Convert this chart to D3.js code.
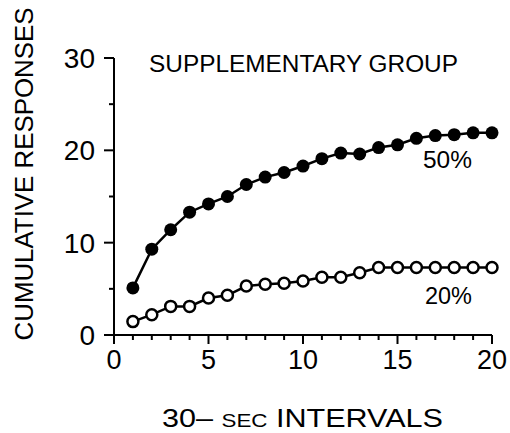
<!DOCTYPE html>
<html>
<head>
<meta charset="utf-8">
<script src="https://cdn.jsdelivr.net/npm/d3@7"></script>
<style>
  body { margin: 0; background: #fff; }
  text { font-family: "Liberation Sans", Arial, sans-serif; fill: #000; }
</style>
</head>
<body>
<div id="chart"></div>
<script>
// data
var intervals = d3.range(1, 21);
var group50 = [5.1, 9.3, 11.4, 13.3, 14.2, 15.0, 16.3, 17.1, 17.6, 18.3,
               19.1, 19.7, 19.6, 20.3, 20.6, 21.3, 21.6, 21.7, 21.9, 21.9];
var group20 = [1.45, 2.2, 3.1, 3.1, 4.0, 4.3, 5.3, 5.5, 5.6, 5.85,
               6.25, 6.25, 6.75, 7.3, 7.3, 7.3, 7.3, 7.3, 7.3, 7.3];
var xTicks = [0, 5, 10, 15, 20];
var yTicks = [0, 10, 20, 30];

var w = 510, h = 433;
var x = d3.scaleLinear().domain([0, 20]).range([114, 492]);
var y = d3.scaleLinear().domain([0, 30]).range([335, 58]);

var svg = d3.select("#chart").append("svg")
    .attr("width", w)
    .attr("height", h);

// axes lines
svg.append("line")
    .attr("x1", x(0)).attr("x2", x(0))
    .attr("y1", y(30)).attr("y2", y(0) + 6)
    .attr("stroke", "#000").attr("stroke-width", 2);
svg.append("line")
    .attr("x1", x(0) - 10).attr("x2", x(20))
    .attr("y1", y(0)).attr("y2", y(0))
    .attr("stroke", "#000").attr("stroke-width", 2);

// y ticks (major + minor)
svg.selectAll(".ytick")
    .data(d3.range(0, 31, 5))
    .enter().append("line")
    .attr("x1", function(d) { return d % 10 === 0 ? x(0) - 10 : x(0) - 5; })
    .attr("x2", x(0))
    .attr("y1", function(d) { return y(d); })
    .attr("y2", function(d) { return y(d); })
    .attr("stroke", "#000").attr("stroke-width", 2);

// x ticks (major + minor)
svg.selectAll(".xtick")
    .data(d3.range(0, 21, 1))
    .enter().append("line")
    .attr("x1", function(d) { return x(d); })
    .attr("x2", function(d) { return x(d); })
    .attr("y1", y(0))
    .attr("y2", function(d) { return d % 5 === 0 ? y(0) + 9 : y(0) + 5; })
    .attr("stroke", "#000").attr("stroke-width", 2);

// tick labels
svg.selectAll(".ylab")
    .data(yTicks)
    .enter().append("text")
    .attr("x", x(0) - 19)
    .attr("y", function(d) { return y(d) + 10; })
    .attr("text-anchor", "end")
    .style("font-size", "28px")
    .text(function(d) { return d; });

svg.selectAll(".xlab")
    .data(xTicks)
    .enter().append("text")
    .attr("x", function(d) { return x(d); })
    .attr("y", 369)
    .attr("text-anchor", "middle")
    .style("font-size", "27px")
    .text(function(d) { return d; });

// axis titles
svg.append("text")
    .attr("transform", "translate(33,174) rotate(-90)")
    .attr("text-anchor", "middle")
    .attr("textLength", 333)
    .attr("lengthAdjust", "spacingAndGlyphs")
    .style("font-size", "25px")
    .text("CUMULATIVE RESPONSES");

var xt = svg.append("text")
    .attr("x", 162)
    .attr("y", 427)
    .attr("textLength", 281)
    .attr("lengthAdjust", "spacingAndGlyphs")
    .style("font-size", "26px");
xt.append("tspan").text("30\u2013 ");
xt.append("tspan").style("font-size", "19px").text("SEC");
xt.append("tspan").text(" INTERVALS");

// lines
var line = d3.line()
    .x(function(d, i) { return x(intervals[i]); })
    .y(function(d) { return y(d); });

svg.append("path")
    .datum(group50)
    .attr("d", line)
    .attr("fill", "none")
    .attr("stroke", "#000")
    .attr("stroke-width", 2.5);

svg.append("path")
    .datum(group20)
    .attr("d", line)
    .attr("fill", "none")
    .attr("stroke", "#000")
    .attr("stroke-width", 2.5);

// markers
svg.selectAll(".dot50")
    .data(group50)
    .enter().append("circle")
    .attr("cx", function(d, i) { return x(intervals[i]); })
    .attr("cy", function(d) { return y(d); })
    .attr("r", 6.5)
    .attr("fill", "#000");

svg.selectAll(".dot20")
    .data(group20)
    .enter().append("circle")
    .attr("cx", function(d, i) { return x(intervals[i]); })
    .attr("cy", function(d) { return y(d); })
    .attr("r", 5.5)
    .attr("fill", "#fff")
    .attr("stroke", "#000")
    .attr("stroke-width", 2.5);

// annotations
svg.append("text")
    .attr("x", 149).attr("y", 72)
    .attr("textLength", 309)
    .attr("lengthAdjust", "spacingAndGlyphs")
    .style("font-size", "23px")
    .text("SUPPLEMENTARY GROUP");

svg.append("text")
    .attr("x", 423).attr("y", 168)
    .attr("textLength", 49)
    .attr("lengthAdjust", "spacingAndGlyphs")
    .style("font-size", "24px")
    .text("50%");

svg.append("text")
    .attr("x", 425).attr("y", 304)
    .attr("textLength", 47)
    .attr("lengthAdjust", "spacingAndGlyphs")
    .style("font-size", "24px")
    .text("20%");
</script>
</body>
</html>
